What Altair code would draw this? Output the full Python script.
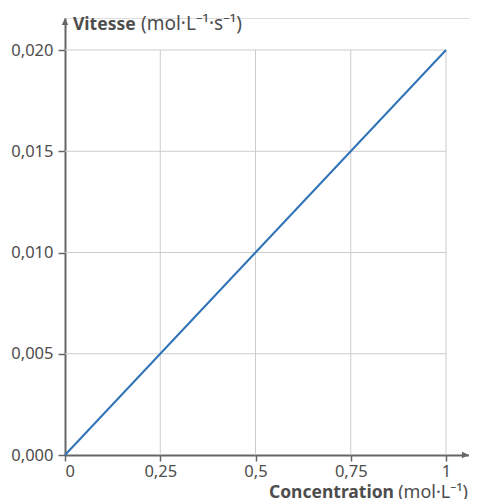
import altair as alt
import pandas as pd

# Data
conc = [0, 1]
vitesse = [0.0, 0.020]
x_ticks = [0, 0.25, 0.5, 0.75, 1]
y_ticks = [0, 0.005, 0.010, 0.015, 0.020]

W, H = 404, 437
X_MAX = 404 / 381
Y_MAX = 437 / 20250
FONT = "Noto Sans"
TXT = "#4d4d4d"
AX = "#666666"
GRID = "#cccccc"

line_df = pd.DataFrame({"c": conc, "v": vitesse})
vgrid = pd.DataFrame({"c": x_ticks[1:], "v0": [0] * 4, "v1": [y_ticks[-1]] * 4})
hgrid = pd.DataFrame({"v": y_ticks[1:], "c0": [0] * 4, "c1": [x_ticks[-1]] * 4})

xs = alt.Scale(domain=[0, X_MAX], nice=False, zero=False)
ys = alt.Scale(domain=[0, Y_MAX], nice=False, zero=False)

common = dict(
    grid=False,
    labelFont=FONT,
    labelFontSize=16.5,
    labelColor=TXT,
    tickColor=AX,
    domainColor=AX,
    domainWidth=2,
    tickWidth=1.5,
)
xaxis = alt.Axis(
    values=x_ticks,
    labelExpr="replace(toString(datum.value), '.', ',')",
    tickSize=6,
    labelPadding=2,
    **common,
)
yaxis = alt.Axis(
    values=y_ticks,
    labelExpr="replace(format(datum.value, '.3f'), '.', ',')",
    tickSize=7,
    labelPadding=5,
    **common,
)

vg = alt.Chart(vgrid).mark_rule(color=GRID, strokeWidth=1).encode(
    x=alt.X("c:Q", scale=xs, axis=xaxis, title=None),
    y=alt.Y("v0:Q", scale=ys, axis=yaxis, title=None),
    y2="v1:Q",
)
hg = alt.Chart(hgrid).mark_rule(color=GRID, strokeWidth=1).encode(
    y=alt.Y("v:Q", scale=ys, axis=yaxis, title=None),
    x=alt.X("c0:Q", scale=xs, axis=xaxis, title=None),
    x2="c1:Q",
)

line = alt.Chart(line_df).mark_line(color="#2f72b8", strokeWidth=2).encode(
    x=alt.X("c:Q", scale=xs, axis=xaxis, title=None),
    y=alt.Y("v:Q", scale=ys, axis=yaxis, title=None),
)

arrow_up = alt.Chart(line_df.head(1)).mark_point(
    shape="M0,0L-0.45,1L0.45,1Z", size=200, filled=True, color=AX, opacity=1
).encode(x=alt.value(0), y=alt.value(0))
arrow_right = alt.Chart(line_df.head(1)).mark_point(
    shape="M0,0L-1,-0.45L-1,0.45Z", size=200, filled=True, color=AX, opacity=1
).encode(x=alt.value(W), y=alt.value(H))

def txt(s, x, y, bold, align, size):
    return alt.Chart(line_df.head(1)).mark_text(
        text=s, font=FONT, fontSize=size, fontWeight="bold" if bold else "normal",
        color=TXT, align=align, baseline="alphabetic",
    ).encode(x=alt.value(x), y=alt.value(y))

ytitle_b = txt("Vitesse", 8, 12, True, "left", 17.5)
ytitle_r = txt("(mol·L⁻¹·s⁻¹)", 76, 12, False, "left", 19)
xtitle_b = txt("Concentration", 329, 480, True, "right", 17.5)
xtitle_r = txt("(mol·L⁻¹)", 403, 480, False, "right", 18)

chart = alt.layer(
    vg, hg, line, arrow_up, arrow_right, ytitle_b, ytitle_r, xtitle_b, xtitle_r
).properties(
    width=W, height=H,
    autosize=alt.AutoSizeParams(type="none"),
    padding={"left": 57, "top": 10, "right": 0, "bottom": 44},
).configure_view(stroke=None).configure(background="white")

chart.save("out.html", embed_options={"renderer": "svg", "actions": False})
